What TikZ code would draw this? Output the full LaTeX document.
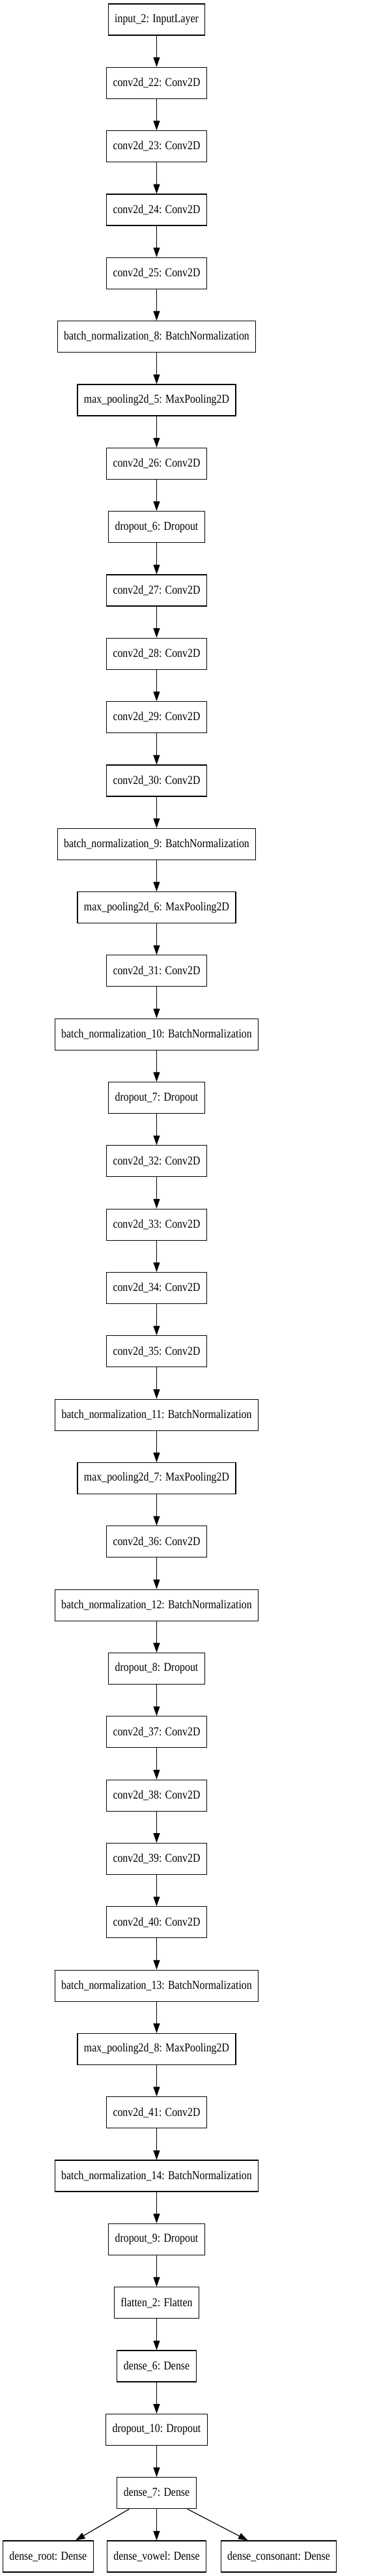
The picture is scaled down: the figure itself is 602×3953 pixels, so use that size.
\documentclass[tikz,border=0pt]{standalone}
\usepackage{fontspec}
\setmainfont{Liberation Serif}[FakeStretch=0.85]
\usetikzlibrary{arrows.meta}
\tikzset{
  layer/.style={draw=black, line width=0.9pt, rectangle, minimum height=36pt, inner xsep=7.5pt, inner ysep=0pt, font=\fontsize{14pt}{16pt}\selectfont, fill=white},
  edge/.style={line width=0.9pt, -{Triangle[length=11pt,width=7.5pt]}}
}
\begin{document}
\begin{tikzpicture}[x=0.75pt,y=-0.75pt]
\useasboundingbox (0,0) rectangle (602,3953);
\foreach \lab [count=\i] in {
input\_2: InputLayer,
conv2d\_22: Conv2D,
conv2d\_23: Conv2D,
conv2d\_24: Conv2D,
conv2d\_25: Conv2D,
batch\_normalization\_8: BatchNormalization,
max\_pooling2d\_5: MaxPooling2D,
conv2d\_26: Conv2D,
dropout\_6: Dropout,
conv2d\_27: Conv2D,
conv2d\_28: Conv2D,
conv2d\_29: Conv2D,
conv2d\_30: Conv2D,
batch\_normalization\_9: BatchNormalization,
max\_pooling2d\_6: MaxPooling2D,
conv2d\_31: Conv2D,
batch\_normalization\_10: BatchNormalization,
dropout\_7: Dropout,
conv2d\_32: Conv2D,
conv2d\_33: Conv2D,
conv2d\_34: Conv2D,
conv2d\_35: Conv2D,
batch\_normalization\_11: BatchNormalization,
max\_pooling2d\_7: MaxPooling2D,
conv2d\_36: Conv2D,
batch\_normalization\_12: BatchNormalization,
dropout\_8: Dropout,
conv2d\_37: Conv2D,
conv2d\_38: Conv2D,
conv2d\_39: Conv2D,
conv2d\_40: Conv2D,
batch\_normalization\_13: BatchNormalization,
max\_pooling2d\_8: MaxPooling2D,
conv2d\_41: Conv2D,
batch\_normalization\_14: BatchNormalization,
dropout\_9: Dropout,
flatten\_2: Flatten,
dense\_6: Dense,
dropout\_10: Dropout,
dense\_7: Dense}
{
  \node[layer] (n\i) at (240.5, {30+97.325*(\i-1)}) {\lab};
}
\node[layer] (droot) at (73.8, 3923) {dense\_root: Dense};
\node[layer] (dvowel) at (240.5, 3923) {dense\_vowel: Dense};
\node[layer] (dcons) at (428, 3923) {dense\_consonant: Dense};
\foreach \i in {1,...,39} {
  \pgfmathtruncatemacro{\j}{\i+1}
  \draw[edge] (n\i) -- (n\j);
}
\draw[edge] (n40) -- (droot);
\draw[edge] (n40) -- (dvowel);
\draw[edge] (n40) -- (dcons);
\end{tikzpicture}
\end{document}
